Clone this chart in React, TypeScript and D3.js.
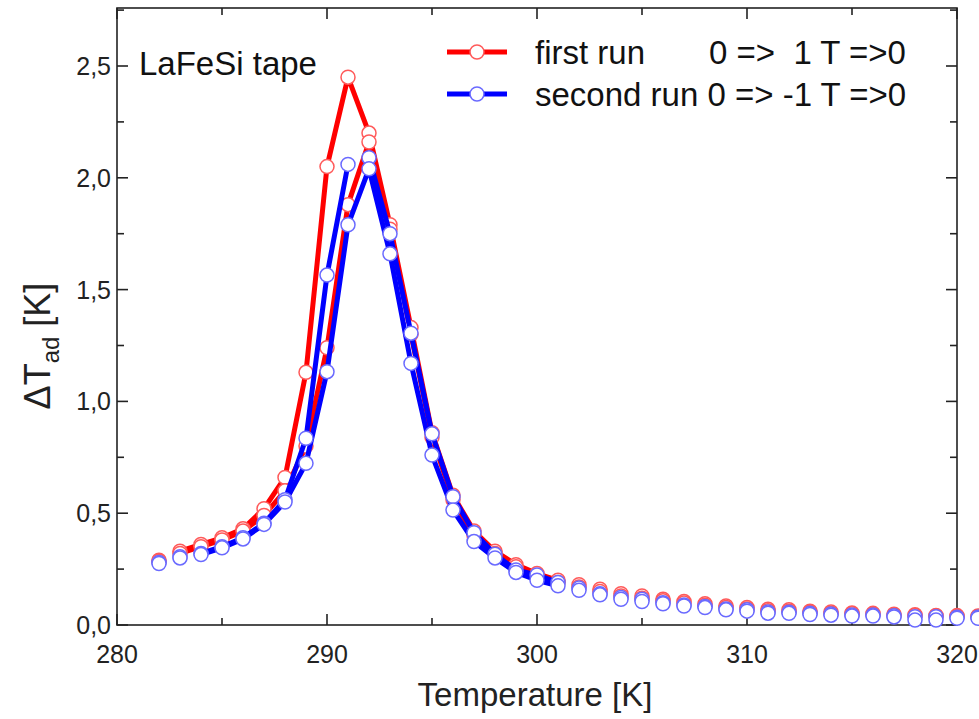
import React from "react";
import * as d3 from "d3";

const temperature = [282,283,284,285,286,287,288,289,290,291,292,293,294,295,296,297,298,299,300,301,302,303,304,305,306,307,308,309,310,311,312,313,314,315,316,317,318,319,320,321];
const firstRunUp = [0.29,0.33,0.36,0.39,0.43,0.52,0.66,1.13,2.05,2.45,2.20,1.79,1.33,0.86,0.58,0.42,0.33,0.27,0.23,0.20,0.18,0.16,0.14,0.13,0.115,0.105,0.095,0.085,0.078,0.07,0.068,0.062,0.058,0.054,0.052,0.048,0.046,0.043,0.042,0.04];
const firstRunDown = [0.285,0.32,0.35,0.38,0.42,0.49,0.60,0.80,1.24,1.88,2.16,1.77,1.30,0.84,0.56,0.40,0.32,0.26,0.22,0.19,0.17,0.15,0.13,0.12,0.108,0.098,0.088,0.078,0.072,0.064,0.062,0.057,0.053,0.05,0.048,0.044,0.042,0.04,0.038,0.037];
const secondRunUp = [0.28,0.305,0.32,0.35,0.39,0.455,0.56,0.835,1.565,2.06,2.09,1.75,1.305,0.855,0.574,0.413,0.316,0.246,0.224,0.19,0.165,0.14,0.123,0.115,0.10,0.09,0.083,0.072,0.068,0.058,0.057,0.052,0.049,0.045,0.045,0.041,0.037,0.037,0.035,0.035];
const secondRunDown = [0.275,0.30,0.315,0.345,0.385,0.45,0.55,0.723,1.133,1.79,2.04,1.66,1.17,0.76,0.514,0.373,0.30,0.235,0.20,0.175,0.155,0.135,0.115,0.105,0.095,0.085,0.078,0.068,0.062,0.053,0.052,0.047,0.044,0.04,0.04,0.036,0.022,0.022,0.03,0.03];

const xTicks = [280, 290, 300, 310, 320];
const yTicks = [0, 0.5, 1.0, 1.5, 2.0, 2.5];
const legendLabels = ["first run", "second run 0 => -1 T =>0"];
const legendSuffix = "0 =>  1 T =>0";
const sampleLabel = "LaFeSi tape";

const W = 979, H = 719;
const left = 117, right = 957, top = 8, bottom = 625;

type Branch = { values: number[]; lineFrom: number; lineTo: number; breakAfter?: number };
type Series = { line: string; marker: string; branches: Branch[] };

const series: Series[] = [
  { line: "#ff0000", marker: "#ff5a5a", branches: [
    { values: firstRunUp, lineFrom: 283, lineTo: 301 },
    { values: firstRunDown, lineFrom: 283, lineTo: 301 },
  ]},
  { line: "#0000ff", marker: "#6a6aff", branches: [
    { values: secondRunUp, lineFrom: 284, lineTo: 301, breakAfter: 291 },
    { values: secondRunDown, lineFrom: 284, lineTo: 301 },
  ]},
];

export default function App() {
  const x = d3.scaleLinear().domain([280, 320]).range([left, right]);
  const y = d3.scaleLinear().domain([0, 2.5]).range([bottom, bottom - 2.5 * 223.6]);
  const yTop = y.invert(top);
  const fmt = (v: number) => d3.format(".1f")(v).replace(".", ",");
  const xMinor = d3.range(280, 321, 5);
  const yMinor = d3.range(0, yTop, 0.25);

  const lineGen = d3.line<[number, number, boolean]>()
    .defined(d => d[2])
    .x(d => x(d[0]))
    .y(d => y(d[1]));

  const font = "'Liberation Sans', Arial, sans-serif";

  return (
    <div style={{ position: "absolute", left: 0, top: 0 }}>
      <svg width={W} height={H} style={{ display: "block", background: "#fff" }}>
        <rect x={left} y={top} width={right - left} height={bottom - top} fill="none" stroke="#222" strokeWidth={1.6} />
        {xMinor.map(t => {
          const major = t % 10 === 0;
          const len = major ? 11 : 7;
          return (
            <g key={"xt" + t}>
              <line x1={x(t)} x2={x(t)} y1={bottom} y2={bottom - len} stroke="#222" strokeWidth={1.6} />
              <line x1={x(t)} x2={x(t)} y1={top} y2={top + len} stroke="#222" strokeWidth={1.6} />
            </g>
          );
        })}
        {yMinor.map(v => {
          const major = Math.abs(v * 2 - Math.round(v * 2)) < 1e-6;
          const len = major ? 11 : 7;
          return (
            <g key={"yt" + v}>
              <line x1={left} x2={left + len} y1={y(v)} y2={y(v)} stroke="#222" strokeWidth={1.6} />
              <line x1={right} x2={right - len} y1={y(v)} y2={y(v)} stroke="#222" strokeWidth={1.6} />
            </g>
          );
        })}
        {xTicks.map(t => (
          <text key={"xl" + t} x={x(t)} y={bottom + 38} textAnchor="middle" fontFamily={font} fontSize={25} fill="#222">{t}</text>
        ))}
        {yTicks.map(v => (
          <text key={"yl" + v} x={left - 6} y={y(v) + 9} textAnchor="end" fontFamily={font} fontSize={25} fill="#222">{fmt(v)}</text>
        ))}
        <text x={535} y={706} textAnchor="middle" fontFamily={font} fontSize={33} fill="#222">Temperature [K]</text>
        <text transform={`translate(50, 346) rotate(-90)`} textAnchor="middle" fontFamily={font} fontSize={36} fill="#222">
          ΔT<tspan fontSize={24} dy={9}>ad</tspan><tspan dy={-9}> [K]</tspan>
        </text>

        {series.map((s, si) => (
          <g key={"s" + si}>
            {s.branches.map((b, bi) => {
              const pts: [number, number, boolean][] = [];
              temperature.forEach((t, i) => {
                if (t < b.lineFrom || t > b.lineTo) return;
                pts.push([t, b.values[i], true]);
                if (b.breakAfter === t) pts.push([t, b.values[i], false]);
              });
              return <path key={"l" + bi} d={lineGen(pts) || ""} fill="none" stroke={s.line} strokeWidth={5} strokeLinejoin="round" />;
            })}
            {s.branches.map((b, bi) => (
              <g key={"m" + bi}>
                {temperature.map((t, i) => (
                  <circle key={t} cx={x(t)} cy={y(b.values[i])} r={7} fill="#fff" stroke={s.marker} strokeWidth={1.5} />
                ))}
              </g>
            ))}
          </g>
        ))}

        {series.map((s, i) => {
          const ly = 52 + i * 42;
          return (
            <g key={"lg" + i}>
              <line x1={447} x2={507} y1={ly} y2={ly} stroke={s.line} strokeWidth={5} />
              <circle cx={477} cy={ly} r={7} fill="#fff" stroke={s.marker} strokeWidth={1.5} />
              <text x={535} y={ly + 12} fontFamily={font} fontSize={33} fill="#111">{legendLabels[i]}</text>
            </g>
          );
        })}
        <text x={709} y={64} fontFamily={font} fontSize={33} fill="#111" style={{ whiteSpace: "pre" }}>{legendSuffix}</text>
        <text x={139} y={75} fontFamily={font} fontSize={33} fill="#111">{sampleLabel}</text>
      </svg>
    </div>
  );
}
